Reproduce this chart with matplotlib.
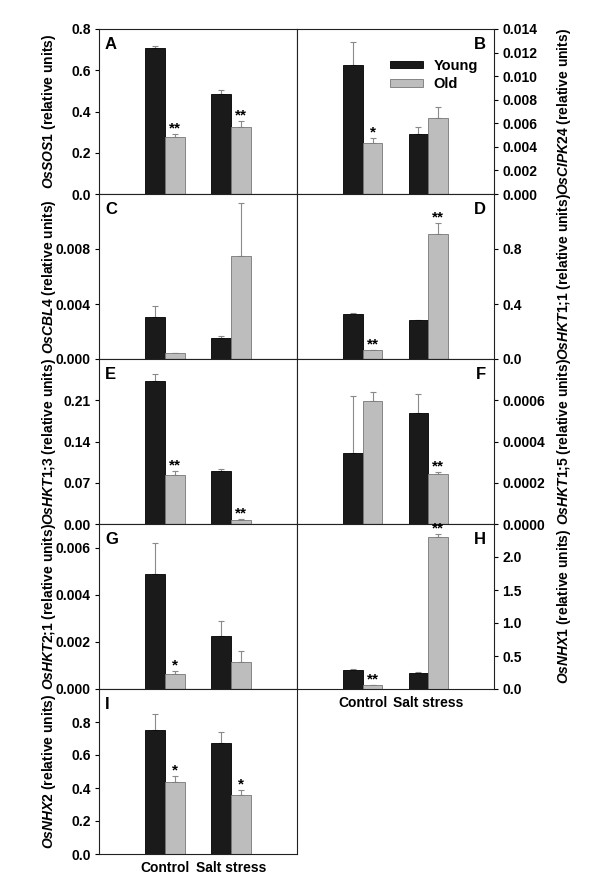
import matplotlib
matplotlib.use("Agg")
import matplotlib.pyplot as plt
import numpy as np

plt.rcParams['font.family'] = ['Liberation Sans', 'DejaVu Sans']
plt.rcParams['font.weight'] = 'bold'
plt.rcParams['mathtext.fontset'] = 'custom'
plt.rcParams['mathtext.it'] = 'Liberation Sans:italic:bold'
plt.rcParams['mathtext.rm'] = 'Liberation Sans:bold'
plt.rcParams['mathtext.bf'] = 'Liberation Sans:bold'

conditions = ["Control", "Salt stress"]
series = ["Young", "Old"]

# Panel data: values and upper error (SE) for Young and Old leaves
genes = ["OsSOS1", "OsCIPK24", "OsCBL4", "OsHKT1;1", "OsHKT1;3",
         "OsHKT1;5", "OsHKT2;1", "OsNHX1", "OsNHX2"]
letters = ["A", "B", "C", "D", "E", "F", "G", "H", "I"]

young_A = [0.708, 0.483];   young_err_A = [0.011, 0.023]
old_A = [0.276, 0.325];     old_err_A = [0.015, 0.027];   stars_A = ["**", "**"]
young_B = [0.01095, 0.00509]; young_err_B = [0.00198, 0.0006]
old_B = [0.00433, 0.00645];   old_err_B = [0.00042, 0.00096]; stars_B = ["*", ""]
young_C = [0.00304, 0.00154]; young_err_C = [0.00084, 0.00015]
old_C = [0.00041, 0.00747];   old_err_C = [0.00002, 0.00386]; stars_C = ["", ""]
young_D = [0.324, 0.281];   young_err_D = [0.014, 0.005]
old_D = [0.062, 0.907];     old_err_D = [0.005, 0.079];   stars_D = ["**", "**"]
young_E = [0.243, 0.0894];  young_err_E = [0.011, 0.0045]
old_E = [0.0827, 0.0062];   old_err_E = [0.0067, 0.0017]; stars_E = ["**", "**"]
young_F = [0.000346, 0.000536]; young_err_F = [0.000273, 0.000093]
old_F = [0.000594, 0.000243];   old_err_F = [0.000048, 0.00001]; stars_F = ["", "**"]
young_G = [0.00489, 0.00226]; young_err_G = [0.00132, 0.00063]
old_G = [0.00064, 0.00116];   old_err_G = [0.00014, 0.00046]; stars_G = ["*", ""]
young_H = [0.289, 0.248];   young_err_H = [0.01, 0.01]
old_H = [0.056, 2.304];     old_err_H = [0.01, 0.045];    stars_H = ["**", "**"]
young_I = [0.754, 0.674];   young_err_I = [0.096, 0.068]
old_I = [0.438, 0.358];     old_err_I = [0.034, 0.030];   stars_I = ["*", "*"]

ymax = [0.8, 0.014, 0.012, 1.2, 0.28, 0.0008, 0.007, 2.5, 1.0]
yticks = [
    [0, 0.2, 0.4, 0.6, 0.8],
    [0, 0.002, 0.004, 0.006, 0.008, 0.010, 0.012, 0.014],
    [0, 0.004, 0.008],
    [0, 0.4, 0.8],
    [0, 0.07, 0.14, 0.21],
    [0, 0.0002, 0.0004, 0.0006],
    [0, 0.002, 0.004, 0.006],
    [0, 0.5, 1.0, 1.5, 2.0],
    [0, 0.2, 0.4, 0.6, 0.8],
]
yfmt = ["%.1f", "%.3f", "%.3f", "%.1f", "%.2f", "%.4f", "%.3f", "%.1f", "%.1f"]

young = [young_A, young_B, young_C, young_D, young_E, young_F, young_G, young_H, young_I]
young_err = [young_err_A, young_err_B, young_err_C, young_err_D, young_err_E,
             young_err_F, young_err_G, young_err_H, young_err_I]
old = [old_A, old_B, old_C, old_D, old_E, old_F, old_G, old_H, old_I]
old_err = [old_err_A, old_err_B, old_err_C, old_err_D, old_err_E,
           old_err_F, old_err_G, old_err_H, old_err_I]
stars = [stars_A, stars_B, stars_C, stars_D, stars_E, stars_F, stars_G, stars_H, stars_I]

W, H = 600, 890
fig = plt.figure(figsize=(W / 100, H / 100), dpi=100)

col_x = [99, 297]
col_w = [198, 197]
row_top = [29, 194, 359, 524, 689]
row_h = 165

young_color = "#1a1a1a"
old_color = "#bdbdbd"
err_color = "#8a8a8a"

x = np.array([1.0, 2.0])
bw = 0.3

for i in range(9):
    r, c = divmod(i, 2)
    left = col_x[c] / W
    bottom = 1 - (row_top[r] + row_h) / H
    ax = fig.add_axes([left, bottom, col_w[c] / W, row_h / H])
    ax.bar(x - bw / 2, young[i], bw, color=young_color, edgecolor="#000000", linewidth=0.6,
           label=series[0], zorder=2)
    ax.bar(x + bw / 2, old[i], bw, color=old_color, edgecolor="#777777", linewidth=0.6,
           label=series[1], zorder=2)
    ax.errorbar(x - bw / 2, young[i], yerr=[np.zeros(2), young_err[i]], fmt="none",
                ecolor=err_color, elinewidth=0.8, capsize=2.5, capthick=0.8, zorder=1)
    ax.errorbar(x + bw / 2, old[i], yerr=[np.zeros(2), old_err[i]], fmt="none",
                ecolor=err_color, elinewidth=0.8, capsize=2.5, capthick=0.8, zorder=1)
    for k in range(2):
        if stars[i][k]:
            ax.annotate(stars[i][k], (x[k] + bw / 2, old[i][k] + old_err[i][k]),
                        xytext=(0, -1), textcoords="offset points", ha="center", va="bottom",
                        fontsize=11, fontweight="bold")
    ax.set_xlim(0, 3)
    ax.set_ylim(0, ymax[i])
    ax.set_yticks(yticks[i])
    ax.set_yticklabels([yfmt[i] % v for v in yticks[i]], fontsize=10, fontweight="bold")
    ax.tick_params(axis="y", direction="out", length=3, width=0.8, pad=3)
    # use Greek question mark (looks like ';') to avoid mathtext punctuation spacing
    gname = genes[i].replace(";", "\u037e")
    label = r"$\it{" + gname + r"}$ (relative units)"
    if c == 0:
        ax.set_ylabel(label, fontsize=10, fontweight="bold")
        ax.yaxis.set_label_coords(-0.205, 0.5)
        ax.text(0.03, 0.95, letters[i], transform=ax.transAxes, ha="left", va="top",
                fontsize=12, fontweight="bold")
    else:
        ax.yaxis.tick_right()
        ax.yaxis.set_label_position("right")
        ax.set_ylabel(label, fontsize=10, fontweight="bold", rotation=90)
        ax.yaxis.set_label_coords(1.31, 0.5)
        ax.text(0.96, 0.95, letters[i], transform=ax.transAxes, ha="right", va="top",
                fontsize=12, fontweight="bold")
    for s in ax.spines.values():
        s.set_linewidth(0.8)
        s.set_color("#222222")
    if i in (7, 8):
        ax.set_xticks(x)
        ax.set_xticklabels(conditions, fontsize=10, fontweight="bold")
        ax.tick_params(axis="x", length=0, pad=5)
    else:
        ax.set_xticks([])
    if i == 1:
        ax.legend(loc="upper left", bbox_to_anchor=(0.47, 0.82), frameon=False,
                  handlelength=2.3, handleheight=0.4, handletextpad=0.7,
                  labelspacing=0.3, borderpad=0, borderaxespad=0,
                  prop={"size": 10.5, "weight": "bold"})

fig.savefig("out.png", dpi=100)
